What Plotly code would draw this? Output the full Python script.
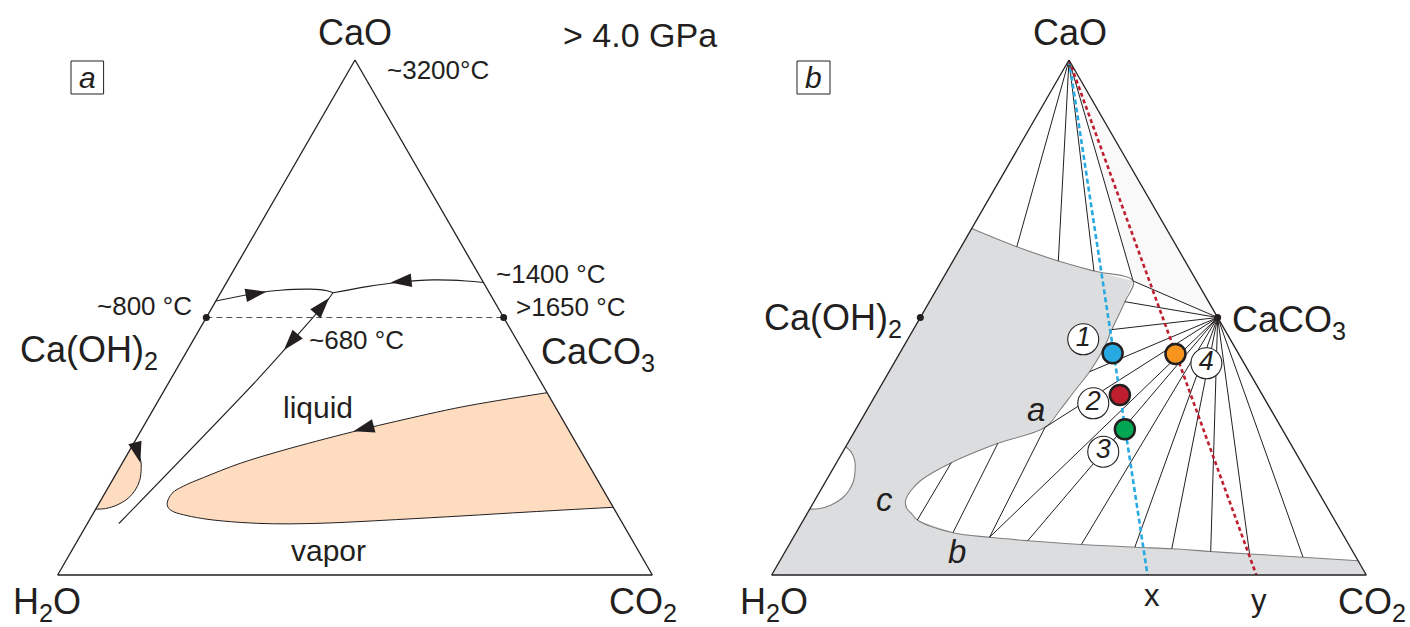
import plotly.graph_objects as go

W, H = 1410, 627
FONT = "Liberation Sans, Arial, sans-serif"
INK = "#231f20"

# ---------------- compositions in mol % (CaO, CO2; H2O is the remainder) ----------------
CAO = (100.0, 0.0)
CAOH2 = (50.0, 0.0)      # Ca(OH)2
CACO3 = (50.0, 50.0)     # CaCO3

# small field on the CaO-H2O side (both panels)
pocket_cao = [24.9, 23.9, 22.3, 20.7, 18.4, 16.5, 14.9, 13.6, 12.9, 12.8]
pocket_co2 = [0.0, 1.4, 2.8, 3.7, 4.6, 4.8, 4.4, 3.2, 1.6, 0.0]

# panel a: liquid + vapor lens, upper limb (CaCO3-CO2 join -> tip) then lower limb (tip -> join)
lens_top_cao = [35.40, 32.68, 29.86, 28.16, 24.60, 21.69, 18.93, 17.28, 15.86, 13.92]
lens_top_co2 = [64.60, 51.83, 42.07, 36.76, 26.79, 19.86, 15.08, 12.55, 11.31, 11.45]
lens_bot_cao = [12.95, 12.27, 11.53, 10.83, 10.21, 9.94, 9.98, 10.19, 10.76, 11.48, 12.25, 13.15]
lens_bot_co2 = [12.20, 13.38, 16.00, 19.70, 25.60, 31.32, 36.91, 42.39, 51.62, 62.43, 73.24, 86.85]

# panel a: univariant curves meeting at the ~680 °C point
cot_left_cao = [53.2, 54.9, 55.3, 55.5, 55.2, 54.8]
cot_left_co2 = [0.0, 6.9, 9.8, 14.7, 17.7, 18.9]
cot_right_cao = [54.8, 56.0, 56.8, 57.3, 57.1, 56.8]
cot_right_co2 = [18.9, 24.0, 28.6, 34.5, 40.2, 43.2]
cot_down_cao = [54.8, 52.8, 44.3, 37.9, 10.0]
cot_down_co2 = [18.9, 18.6, 16.4, 14.6, 5.3]

# arrow heads on the curves (tip position, heading in degrees clockwise from up)
arrow_cao = [55.0, 56.8, 53.8, 43.7, 27.9, 21.8]
arrow_co2 = [7.6, 27.6, 18.75, 16.2, 35.8, 3.0]
arrow_dir = [80, 264, 41, 221, 255, 165]

# panel b: limit of the liquid field
liq_top_cao = [67.3, 63.75, 60.97, 59.03, 57.09]
liq_top_co2 = [0.0, 9.35, 17.72, 24.68, 32.24]
branch_a_cao = [53.07, 47.65, 43.69, 39.47, 35.34, 32.04, 28.68]
branch_a_co2 = [32.86, 33.39, 33.86, 33.72, 33.00, 32.47, 31.63]
branch_cb_cao = [25.57, 21.81, 18.45, 16.50, 14.56, 12.95, 11.98, 10.68, 8.21, 7.32,
                 6.66, 5.92, 5.40, 5.09, 4.56, 4.08, 3.46, 2.78]
branch_cb_co2 = [25.25, 19.30, 15.94, 15.24, 15.25, 16.23, 17.50, 19.16, 26.38, 32.97,
                 39.74, 49.12, 58.37, 64.74, 71.55, 78.33, 87.62, 97.22]

# tie lines
cao_tie_cao = [63.75, 60.97, 59.03, 57.09]
cao_tie_co2 = [9.35, 17.72, 24.68, 32.24]
cc_tie_cao = [57.09, 53.07, 47.65, 39.47, 28.68, 7.32, 6.66, 5.92, 5.40, 5.09, 4.56, 4.08, 3.46]
cc_tie_co2 = [32.24, 32.86, 33.39, 33.72, 31.63, 32.97, 39.74, 49.12, 58.37, 64.74, 71.55, 78.33, 87.62]
lobe_lo_cao = [10.68, 8.21, 7.32]
lobe_lo_co2 = [19.16, 26.38, 32.97]
lobe_hi_cao = [21.81, 25.57, 28.68]
lobe_hi_co2 = [19.30, 25.25, 31.63]

# bulk compositions x and y on the H2O-CO2 join
bulk_x_co2 = 63.2
bulk_y_co2 = 81.5

# experimental runs
run_names = ["1", "2", "3", "4"]
run_cao = [43.05, 34.95, 28.29, 42.91]
run_co2 = [35.81, 41.08, 45.25, 46.45]
run_colors = ["#27aae1", "#be1e2d", "#00a651", "#f7941d"]
tag_cao = [45.77, 33.34, 23.94, 41.11]
tag_co2 = [29.51, 37.41, 43.79, 52.55]


def tern(cao, co2, sub, clip=False, **kw):
    h2o = [None if a is None else round(100 - a - c, 3) for a, c in zip(cao, co2)]
    return go.Scatterternary(a=cao, b=h2o, c=co2, subplot=sub, hoverinfo="skip",
                             showlegend=False, cliponaxis=clip, **kw)


def spokes(origin, cao, co2):
    A, C = [], []
    for a, c in zip(cao, co2):
        A += [origin[0], a, None]
        C += [origin[1], c, None]
    return A, C


def pairs(cao1, co21, cao2, co22):
    A, C = [], []
    for a1, c1, a2, c2 in zip(cao1, co21, cao2, co22):
        A += [a1, a2, None]
        C += [c1, c2, None]
    return A, C


thin = dict(color=INK, width=1)
fig = go.Figure()

# ---------------- panel a ----------------
fig.add_trace(tern(pocket_cao, pocket_co2, "ternary", mode="lines", fill="toself",
                   fillcolor="#fddcc0", line=dict(color=INK, width=1, shape="spline")))
fig.add_trace(tern(lens_top_cao + lens_bot_cao, lens_top_co2 + lens_bot_co2, "ternary",
                   mode="lines", fill="toself", fillcolor="#fddcc0",
                   line=dict(color=INK, width=1, shape="spline")))
for ca, co in [(cot_left_cao, cot_left_co2), (cot_right_cao, cot_right_co2),
               (cot_down_cao, cot_down_co2)]:
    fig.add_trace(tern(ca, co, "ternary", mode="lines",
                       line=dict(color=INK, width=1.1, shape="spline")))
fig.add_trace(tern([CAOH2[0], CACO3[0]], [CAOH2[1], CACO3[1]], "ternary", mode="lines+markers",
                   line=dict(color="#555555", width=1.2, dash="6px,4px"),
                   marker=dict(size=7, color=INK)))
fig.add_trace(tern(arrow_cao, arrow_co2, "ternary", mode="markers",
                   marker=dict(symbol="arrow", size=22, color=INK, angle=arrow_dir,
                               line=dict(width=0))))

# ---------------- panel b ----------------
gray_cao = [0.0] + liq_top_cao + branch_a_cao + branch_cb_cao + [0.0]
gray_co2 = [0.0] + liq_top_co2 + branch_a_co2 + branch_cb_co2 + [100.0]
fig.add_trace(tern(gray_cao, gray_co2, "ternary2", mode="lines", fill="toself",
                   fillcolor="#dcddde", line=dict(width=0)))
fig.add_trace(tern(liq_top_cao + branch_a_cao + branch_cb_cao,
                   liq_top_co2 + branch_a_co2 + branch_cb_co2, "ternary2", mode="lines",
                   line=dict(color="#808080", width=1.1, shape="spline")))
fig.add_trace(tern(pocket_cao, pocket_co2, "ternary2", mode="lines", fill="toself",
                   fillcolor="white", line=dict(color="#808080", width=1.1, shape="spline")))
fig.add_trace(tern([CAO[0], cao_tie_cao[-1], CACO3[0]], [CAO[1], cao_tie_co2[-1], CACO3[1]],
                   "ternary2", mode="lines", fill="toself", fillcolor="#f9f9f9",
                   line=dict(width=0)))
A, C = spokes(CAO, cao_tie_cao, cao_tie_co2)
fig.add_trace(tern(A, C, "ternary2", mode="lines", line=thin))
A, C = spokes(CACO3, cc_tie_cao, cc_tie_co2)
fig.add_trace(tern(A, C, "ternary2", mode="lines", line=thin))
A, C = pairs(lobe_lo_cao, lobe_lo_co2, lobe_hi_cao, lobe_hi_co2)
fig.add_trace(tern(A, C, "ternary2", mode="lines", line=thin))
fig.add_trace(tern([CAO[0], 0.0], [CAO[1], bulk_x_co2], "ternary2", mode="lines",
                   line=dict(color="#27aae1", width=2.6, dash="5px,3px")))
fig.add_trace(tern([CAO[0], 0.0], [CAO[1], bulk_y_co2], "ternary2", mode="lines",
                   line=dict(color="#be1e2d", width=2.6, dash="4px,3px")))
fig.add_trace(tern([CAOH2[0], CACO3[0]], [CAOH2[1], CACO3[1]], "ternary2", mode="markers",
                   marker=dict(size=7, color=INK)))
fig.add_trace(tern(tag_cao, tag_co2, "ternary2", mode="markers+text", text=run_names,
                   textposition="middle center",
                   textfont=dict(family=FONT, size=27, color=INK, style="italic"),
                   marker=dict(size=31, color="white", line=dict(color=INK, width=1.1))))
fig.add_trace(tern(run_cao, run_co2, "ternary2", mode="markers",
                   marker=dict(size=20, color=run_colors, line=dict(color=INK, width=2.5))))

# ---------------- layout ----------------
axis = dict(showline=True, linecolor=INK, linewidth=1.3, showgrid=False,
            showticklabels=False, ticks="", title=dict(text=""), min=0)
y_dom = [52 / H, 567 / H]
fig.update_layout(
    width=W, height=H, margin=dict(l=0, r=0, t=0, b=0),
    paper_bgcolor="white", plot_bgcolor="white", template="none",
    ternary=dict(sum=100, bgcolor="rgba(0,0,0,0)", domain=dict(x=[57 / W, 653 / W], y=y_dom),
                 aaxis=axis, baxis=axis, caxis=axis),
    ternary2=dict(sum=100, bgcolor="rgba(0,0,0,0)", domain=dict(x=[771 / W, 1367 / W], y=y_dom),
                  aaxis=axis, baxis=axis, caxis=axis),
)


def note(txt, x, y, size, italic=False):
    return dict(text=txt, x=x / W, y=1 - y / H, xref="paper", yref="paper", showarrow=False,
                xanchor="center", yanchor="middle",
                font=dict(family=FONT, size=size, color=INK,
                          style="italic" if italic else "normal"))


labels = [
    ("CaO", 355, 33, 36, False), ("> 4.0 GPa", 640, 35, 34, False),
    ("~3200°C", 438, 70, 26, False), ("a", 87, 78, 30, True),
    ("~1400 °C", 550, 274, 26, False), (">1650 °C", 570, 307, 26, False),
    ("~800 °C", 144, 306, 26, False), ("~680 °C", 357, 340, 26, False),
    ("Ca(OH)<sub>2</sub>", 89, 352, 36, False), ("CaCO<sub>3</sub>", 598, 354, 36, False),
    ("liquid", 318, 408, 30, False), ("vapor", 328, 550, 30, False),
    ("H<sub>2</sub>O", 47, 604, 36, False), ("CO<sub>2</sub>", 643, 604, 36, False),
    ("CaO", 1070, 33, 36, False), ("b", 813, 78, 30, True),
    ("Ca(OH)<sub>2</sub>", 833, 320, 36, False), ("CaCO<sub>3</sub>", 1289, 322, 36, False),
    ("H<sub>2</sub>O", 774, 604, 36, False), ("CO<sub>2</sub>", 1372, 604, 36, False),
    ("x", 1152, 595, 31, False), ("y", 1259, 600, 31, False),
    ("a", 1036, 409, 33, True), ("b", 957, 551, 33, True), ("c", 884, 499, 33, True),
]
fig.update_layout(annotations=[note(*l) for l in labels])

for x0, x1 in [(71, 103.6), (797, 830)]:
    fig.add_shape(type="rect", xref="paper", yref="paper", x0=x0 / W, x1=x1 / W,
                  y0=1 - 94 / H, y1=1 - 61 / H, line=dict(color=INK, width=1))

fig.write_html("out.html")
